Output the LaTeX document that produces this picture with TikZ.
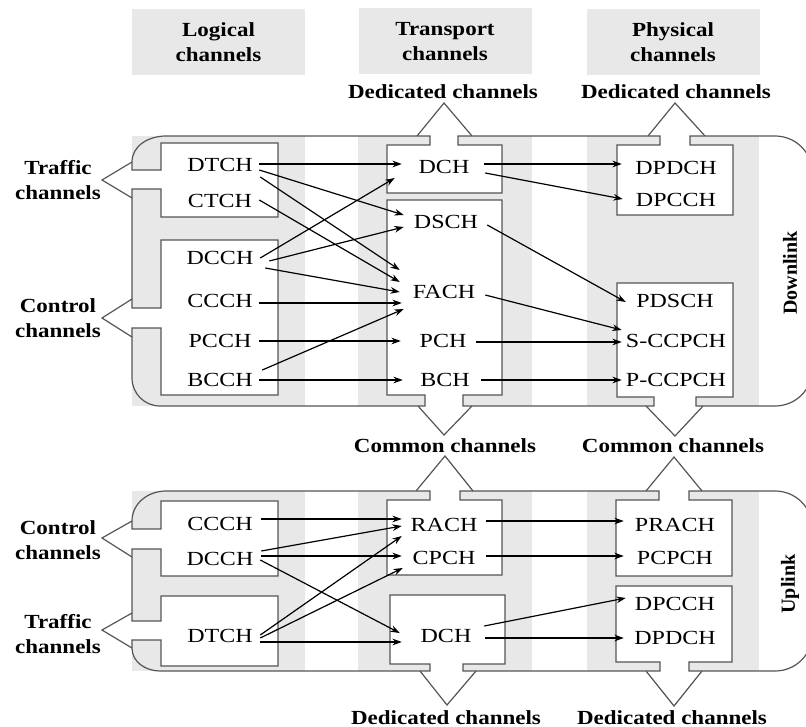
\documentclass[tikz,border=0pt]{standalone}
\usepackage{fontspec}
\setmainfont{Liberation Serif}
\newfontfamily\lblfont[FakeStretch=1.2]{Liberation Serif}
\newfontfamily\bldfont[FakeStretch=1.15]{Liberation Serif}
\usetikzlibrary{arrows.meta}
\definecolor{strip}{HTML}{E8E8E8}
\definecolor{edge}{HTML}{555555}
\tikzset{
 stripfill/.style={fill=strip, draw=none},
 boxfill/.style={fill=white, draw=none},
 outl/.style={draw=edge, line width=0.9pt},
 arr/.style={draw=black, line width=0.9pt, -{Stealth[length=7pt,width=5pt]}},
 lab/.style={font=\lblfont\fontsize{15}{18}\selectfont, inner sep=0pt},
 labL/.style={lab, minimum width=58.5pt},
 labT/.style={lab, minimum width=63pt},
 labP/.style={lab, minimum width=81pt},
 bold/.style={font=\bldfont\bfseries\fontsize{15}{18.5}\selectfont, inner sep=0pt, align=center},
 hdr/.style={bold, fill=strip, minimum width=129.75pt, minimum height=49.5pt},
 vlab/.style={font=\bfseries\fontsize{15}{18}\selectfont, rotate=90, inner sep=0pt},
}
\begin{document}
\begin{tikzpicture}[x=0.75pt,y=-0.75pt]
\useasboundingbox (0,0) rectangle (806,727);
\clip (0,0) rectangle (806,727);

% headers
\node[hdr] (hlog) at (218.5,42) {Logical\\channels};
\node[hdr] (htr) at (445,41.5) {Transport\\channels};
\node[hdr] (hph) at (673,42) {Physical\\channels};

% column strips
\foreach \ya/\yb in {136/406, 491/671}{
  \fill[strip] (132,\ya) rectangle (305,\yb);
  \fill[strip] (358,\ya) rectangle (532,\yb);
  \fill[strip] (587,\ya) rectangle (759,\yb);
}

% white box interiors (downlink)
\fill[white] (161,143) rectangle (278,217);
\fill[white] (161,240) rectangle (278,395);
\fill[white] (387,145) rectangle (502,193);
\fill[white] (387,200) rectangle (502,395);
\fill[white] (617,145) rectangle (733,215);
\fill[white] (617,283) rectangle (733,397);
\fill[white] (132,170) rectangle (161,189);
\fill[white] (132,308) rectangle (161,328);
\fill[white] (430,136) rectangle (458,145);
\fill[white] (660,136) rectangle (690,145);
\fill[white] (425,395) rectangle (463,406);
\fill[white] (654,397) rectangle (696,406);
% white box interiors (uplink)
\fill[white] (161,501) rectangle (278,576);
\fill[white] (161,596) rectangle (278,666);
\fill[white] (387,500) rectangle (502,575);
\fill[white] (390,595) rectangle (505,664);
\fill[white] (616,500) rectangle (732,576);
\fill[white] (616,586) rectangle (732,662);
\fill[white] (132,529) rectangle (161,549);
\fill[white] (132,621) rectangle (161,640);
\fill[white] (430,491) rectangle (460,500);
\fill[white] (659,491) rectangle (689,500);
\fill[white] (430,664) rectangle (463,671);
\fill[white] (660,662) rectangle (689,671);

% downlink outline
\draw[outl] (161,170) -- (132,170) -- (132,162) to[out=90,in=180] (166,136)
  -- (430,136) -- (430,145) -- (387,145) -- (387,193) -- (502,193) -- (502,145)
  -- (458,145) -- (458,136) -- (660,136) -- (660,145) -- (617,145) -- (617,215)
  -- (733,215) -- (733,145) -- (690,145) -- (690,136) -- (775,136)
  to[out=0,in=90] (812,172) -- (812,370) to[out=-90,in=0] (775,406)
  -- (696,406) -- (696,397) -- (733,397) -- (733,283) -- (617,283) -- (617,397)
  -- (654,397) -- (654,406) -- (463,406) -- (463,395) -- (502,395) -- (502,200)
  -- (387,200) -- (387,395) -- (425,395) -- (425,406) -- (160,406)
  to[out=180,in=-90] (132,378) -- (132,328) -- (161,328) -- (161,395) -- (278,395)
  -- (278,240) -- (161,240) -- (161,308) -- (132,308) -- (132,189) -- (161,189)
  -- (161,217) -- (278,217) -- (278,143) -- (161,143) -- cycle;
% downlink big arrows
\draw[outl] (417,136) -- (444,103) -- (472,136);
\draw[outl] (648,136) -- (675,103) -- (705,136);
\draw[outl] (418,406) -- (444,435) -- (472,406);
\draw[outl] (646,406) -- (675,436) -- (703,406);
\draw[outl] (132,162) -- (102,180) -- (132,198);
\draw[outl] (132,299) -- (102,318) -- (132,337);

% uplink outline
\draw[outl] (161,529) -- (132,529) -- (132,521) to[out=90,in=180] (166,491)
  -- (430,491) -- (430,500) -- (387,500) -- (387,575) -- (502,575) -- (502,500)
  -- (460,500) -- (460,491) -- (659,491) -- (659,500) -- (616,500) -- (616,576)
  -- (732,576) -- (732,500) -- (689,500) -- (689,491) -- (775,491)
  to[out=0,in=90] (812,527) -- (812,635) to[out=-90,in=0] (775,671)
  -- (689,671) -- (689,662) -- (732,662) -- (732,586) -- (616,586) -- (616,662)
  -- (660,662) -- (660,671) -- (463,671) -- (463,664) -- (505,664) -- (505,595)
  -- (390,595) -- (390,664) -- (430,664) -- (430,671) -- (160,671)
  to[out=180,in=-90] (132,648) -- (132,640) -- (161,640) -- (161,666) -- (278,666)
  -- (278,596) -- (161,596) -- (161,621) -- (132,621) -- (132,549) -- (161,549)
  -- (161,576) -- (278,576) -- (278,501) -- (161,501) -- cycle;
% uplink big arrows
\draw[outl] (416,491) -- (445,456) -- (473,491);
\draw[outl] (646,491) -- (674,457) -- (702,491);
\draw[outl] (420,671) -- (447,705) -- (476,671);
\draw[outl] (646,671) -- (674,706) -- (702,671);
\draw[outl] (132,521) -- (102,538) -- (132,557);
\draw[outl] (132,613) -- (102,630) -- (132,648);

% side / direction labels
\node[bold] (trd) at (58,180) {Traffic\\channels};
\node[bold] (cod) at (58,318) {Control\\channels};
\node[bold] (cou) at (58,540) {Control\\channels};
\node[bold] (tru) at (58,634) {Traffic\\channels};
\node[bold, anchor=base] (dedT) at (443,99) {Dedicated channels};
\node[bold, anchor=base] (dedP) at (676,99) {Dedicated channels};
\node[bold, anchor=base] (comT) at (445,452) {Common channels};
\node[bold, anchor=base] (comP) at (673,452) {Common channels};
\node[bold, anchor=base] (dedTb) at (446,724) {Dedicated channels};
\node[bold, anchor=base] (dedPb) at (672,724) {Dedicated channels};
\node[vlab] (dl) at (790,273) {Downlink};
\node[vlab] (ul) at (790,584) {Uplink};

% downlink channel labels
\node[labL] (dtch) at (220,165) {DTCH};
\node[labL] (ctch) at (220,201) {CTCH};
\node[labL] (dcch) at (220,258) {DCCH};
\node[labL] (ccch) at (220,301) {CCCH};
\node[labL] (pcch) at (220,341) {PCCH};
\node[labL] (bcch) at (220,380) {BCCH};
\node[labT] (dch) at (444,167) {DCH};
\node[labT] (dsch) at (446,222) {DSCH};
\node[labT] (fach) at (444,292) {FACH};
\node[labT] (pch) at (443,341) {PCH};
\node[labT] (bch) at (445,380) {BCH};
\node[labP] (dpdch) at (676,168) {DPDCH};
\node[labP] (dpcch) at (676,200) {DPCCH};
\node[labP] (pdsch) at (675,301) {PDSCH};
\node[labP] (sccpch) at (676,341) {S-CCPCH};
\node[labP] (pccpch) at (676,380) {P-CCPCH};

% uplink channel labels
\node[labL] (ccchu) at (220,524) {CCCH};
\node[labL] (dcchu) at (220,559) {DCCH};
\node[labL] (dtchu) at (220,636) {DTCH};
\node[labT] (rach) at (444,525) {RACH};
\node[labT] (cpch) at (444,558) {CPCH};
\node[labT] (dchu) at (446,636) {DCH};
\node[labP] (prach) at (675,525) {PRACH};
\node[labP] (pcpch) at (675,558) {PCPCH};
\node[labP] (dpcch2) at (675,604) {DPCCH};
\node[labP] (dpdch2) at (675,638) {DPDCH};

% downlink connectors
\draw[arr] ([shift={(0,-1)}]dtch.east) -- ([shift={(0,-3)}]dch.west);
\draw[arr] ([shift={(0,5)}]dtch.east) -- ([shift={(0,-7)}]dsch.west);
\draw[arr] ([shift={(1,12)}]dtch.east) -- ([shift={(-2,-22)}]fach.west);
\draw[arr] ([shift={(0,-1)}]ctch.east) -- ([shift={(-2,-10)}]fach.west);
\draw[arr] ([shift={(1,0)}]dcch.east) -- ([shift={(-7,11)}]dch.west);
\draw[arr] ([shift={(10,3)}]dcch.east) -- ([shift={(0,5)}]dsch.west);
\draw[arr] ([shift={(6,10)}]dcch.east) -- ([shift={(-2,0)}]fach.west);
\draw[arr] ([shift={(0,2)}]ccch.east) -- ([shift={(0,11)}]fach.west);
\draw[arr] (pcch.east) -- (pch.west);
\draw[arr] ([shift={(3,-10)}]bcch.east) -- ([shift={(2,17)}]fach.west);
\draw[arr] (bcch.east) -- (bch.west);
\draw[arr] ([shift={(-2,-3)}]dch.east) -- ([shift={(0,-4)}]dpdch.west);
\draw[arr] ([shift={(-1,6)}]dch.east) -- ([shift={(1,-1)}]dpcch.west);
\draw[arr] ([shift={(-1,3)}]dsch.east) -- ([shift={(5,1)}]pdsch.west);
\draw[arr] ([shift={(-1,3)}]fach.east) -- ([shift={(0,-11)}]sccpch.west);
\draw[arr] ([shift={(-9,1)}]pch.east) -- ([shift={(0,1)}]sccpch.west);
\draw[arr] ([shift={(-6,0)}]bch.east) -- (pccpch.west);

% uplink connectors
\draw[arr] ([shift={(2,-5)}]ccchu.east) -- ([shift={(0,-6)}]rach.west);
\draw[arr] ([shift={(2,-8)}]dcchu.east) -- ([shift={(0,1)}]rach.west);
\draw[arr] ([shift={(2,-3)}]dcchu.east) -- ([shift={(0,-2)}]cpch.west);
\draw[arr] ([shift={(1,1)}]dcchu.east) -- ([shift={(-4,-3)}]dchu.west);
\draw[arr] ([shift={(1,-1)}]dtchu.east) -- ([shift={(0,11)}]rach.west);
\draw[arr] ([shift={(1,2)}]dtchu.east) -- ([shift={(1,10)}]cpch.west);
\draw[arr] ([shift={(1,6)}]dtchu.east) -- ([shift={(-2,6)}]dchu.west);
\draw[arr] ([shift={(0,-4)}]rach.east) -- ([shift={(3,-4)}]prach.west);
\draw[arr] ([shift={(0,-2)}]cpch.east) -- ([shift={(3,-2)}]pcpch.west);
\draw[arr] ([shift={(-4,-10)}]dchu.east) -- ([shift={(5,-6)}]dpcch2.west);
\draw[arr] ([shift={(-3,2)}]dchu.east) -- ([shift={(3,0)}]dpdch2.west);
\end{tikzpicture}
\end{document}
